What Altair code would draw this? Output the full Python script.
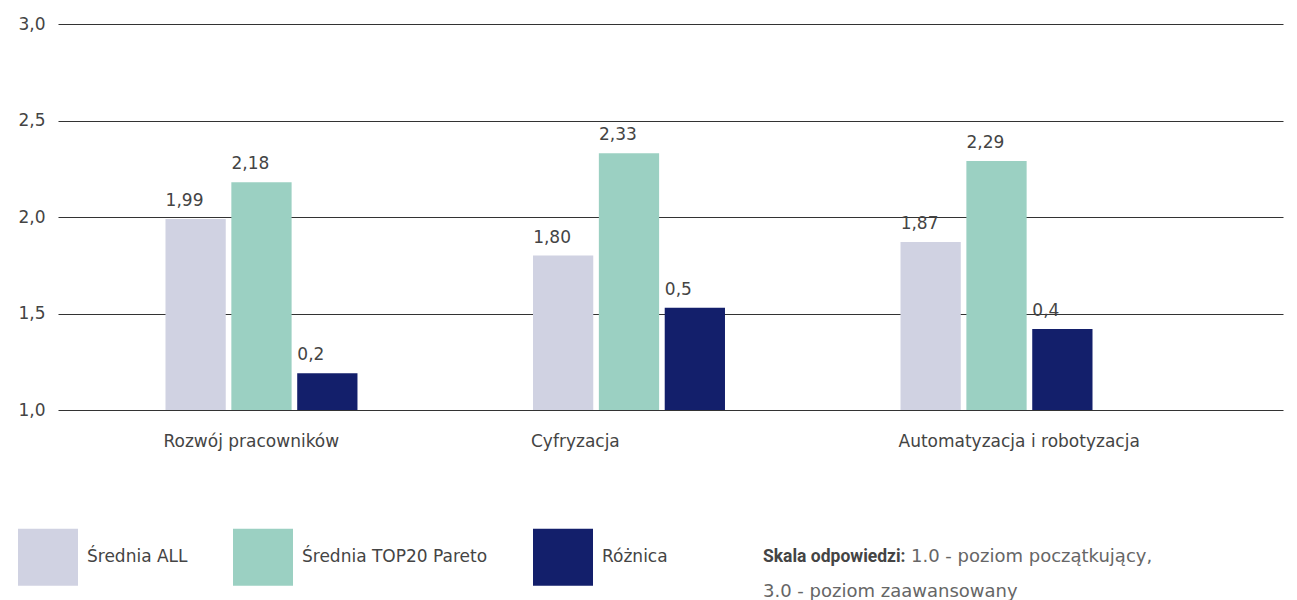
import altair as alt
import pandas as pd

categories = ["Rozwój pracowników", "Cyfryzacja", "Automatyzacja i robotyzacja"]
series = ["Średnia ALL", "Średnia TOP20 Pareto", "Różnica"]
srednia_all = [1.99, 1.80, 1.87]
srednia_top20 = [2.18, 2.33, 2.29]
roznica = [0.19, 0.53, 0.42]
colors = ["#D0D2E2", "#9BD0C2", "#131F6B"]
y_ticks = [1.0, 1.5, 2.0, 2.5, 3.0]
base_value = 1.0
note_bold = ["Skala odpowiedzi:"]
note_line1 = ["1.0 - poziom początkujący,"]
note_line2 = ["3.0 - poziom zaawansowany"]

rows = []
for i, c in enumerate(categories):
    rows.append(dict(cat=c, series=series[0], value=srednia_all[i],
                     label=f"{srednia_all[i]:.2f}".replace(".", ",")))
    rows.append(dict(cat=c, series=series[1], value=srednia_top20[i],
                     label=f"{srednia_top20[i]:.2f}".replace(".", ",")))
    rows.append(dict(cat=c, series=series[2], value=base_value + roznica[i],
                     label=f"{roznica[i]:.1f}".replace(".", ",")))
df = pd.DataFrame(rows)

FONT = "DejaVu Sans"
BOLD_FONT = "Roboto"
TXT = "#444444"

x_enc = alt.X("cat:N", sort=categories, title=None,
              scale=alt.Scale(paddingInner=0.4776, paddingOuter=0.4054, align=0.3607),
              axis=alt.Axis(labelAlign="left", labelAngle=0, labelPadding=23, labelOffset=-98,
                            labelFontSize=17, labelColor=TXT, labelFont=FONT, domain=False,
                            ticks=False, grid=False, labelLimit=0))
xo_enc = alt.XOffset("series:N", sort=series,
                     scale=alt.Scale(paddingInner=0.085, paddingOuter=0))
y_scale = alt.Scale(domain=[1, 3], nice=False, zero=False)

bars = alt.Chart(df).mark_bar().encode(
    x=x_enc,
    xOffset=xo_enc,
    y=alt.Y("value:Q", scale=y_scale, title=None,
            axis=alt.Axis(values=y_ticks, grid=True, gridColor="#333333", gridWidth=1,
                          domain=False, ticks=False, labelPadding=13, labelFontSize=17,
                          labelColor=TXT, labelFont=FONT,
                          labelExpr="replace(format(datum.value, '.1f'), '.', ',')")),
    y2=alt.datum(base_value),
    color=alt.Color("series:N", sort=series,
                    scale=alt.Scale(domain=series, range=colors),
                    legend=alt.Legend(title=None, orient="none", legendX=-40, legendY=503,
                                      direction="horizontal",
                                      symbolType="M -1 -0.95 L 1 -0.95 L 1 0.95 L -1 0.95 Z",
                                      symbolSize=3600, symbolStrokeWidth=0, symbolOpacity=1,
                                      labelFontSize=17, labelColor=TXT, labelFont=FONT,
                                      labelOffset=9, columnPadding=45, labelLimit=300)),
)

labels = alt.Chart(df).mark_text(align="left", baseline="alphabetic", dx=-30, dy=-13,
                                 fontSize=17, color=TXT, font=FONT).encode(
    x=alt.X("cat:N", sort=categories),
    xOffset=xo_enc,
    y=alt.Y("value:Q", scale=y_scale),
    text="label:N",
)

note_b = alt.Chart(pd.DataFrame({"t": note_bold})).mark_text(
    align="left", baseline="middle", fontSize=17.5, fontWeight="bold", color=TXT, font=BOLD_FONT
).encode(x=alt.value(705), y=alt.value(533), text="t:N")
note_1 = alt.Chart(pd.DataFrame({"t": note_line1})).mark_text(
    align="left", baseline="middle", fontSize=18, color="#666666", font=FONT
).encode(x=alt.value(853), y=alt.value(533), text="t:N")
note_2 = alt.Chart(pd.DataFrame({"t": note_line2})).mark_text(
    align="left", baseline="middle", fontSize=18, color="#666666", font=FONT
).encode(x=alt.value(705), y=alt.value(568), text="t:N")

chart = alt.layer(bars, labels, note_b, note_1, note_2).properties(
    width=1225, height=386,
    autosize=alt.AutoSizeParams(type="none"),
    padding={"left": 50, "top": 16, "right": 6, "bottom": 200},
).configure(font=FONT).configure_view(stroke=None)

chart.save("out.html", embed_options={"renderer": "svg", "actions": False})
